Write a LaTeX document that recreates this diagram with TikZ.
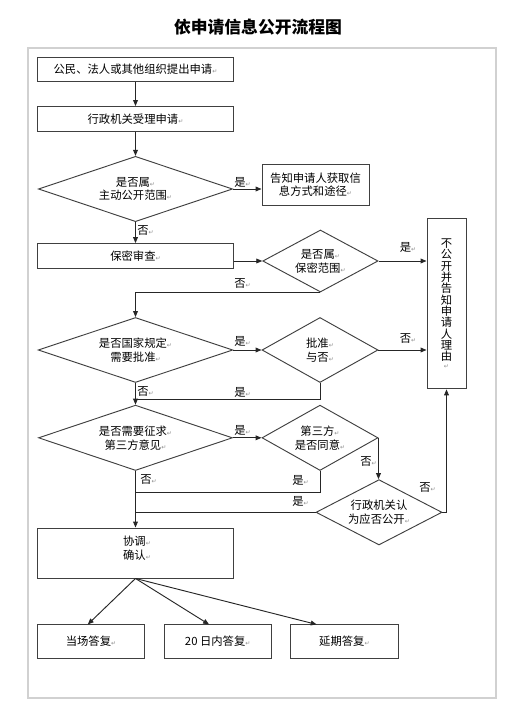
\documentclass[tikz,border=0pt]{standalone}
\usepackage{fontspec}
\setmainfont{Noto Sans CJK SC}
\newfontfamily\dejavu{DejaVu Sans}
\usetikzlibrary{arrows.meta,shapes.geometric,calc}
\newcommand{\rt}{{\dejavu\fontsize{4.5}{5}\selectfont\color{black!45}↵}}
\begin{document}
\begin{tikzpicture}[x=0.75pt,y=-0.75pt,
  txt/.style={font=\fontsize{8.5}{10.4}\selectfont},
  box/.style={draw=black!75, line width=0.7pt, rectangle, inner sep=0pt, align=center, txt},
  dia/.style={draw=black!75, line width=0.7pt, diamond, inner sep=0pt, align=center, txt},
  arr/.style={draw=black!85, line width=0.7pt, -{Triangle[length=4.5pt,width=3.6pt]}},
  ln/.style={draw=black!85, line width=0.7pt},
  lbl/.style={txt, inner sep=0pt, anchor=west}]
\useasboundingbox (0,0) rectangle (531,725);
\fill[white] (0,0) rectangle (531,725);
\draw[black!18, line width=1.8pt] (28,48) rectangle (496,698);
\node[font=\fontsize{12.6}{14}\selectfont\bfseries] (title) at (258,27) {依申请信息公开流程图};

\node[box, minimum width=147pt, minimum height=18.5pt] (b1) at (135.5,69.4) {公民、法人或其他组织提出申请\rt};
\node[box, minimum width=147pt, minimum height=18.5pt] (b2) at (135.5,118.8) {行政机关受理申请\rt};
\node[dia, shape aspect=3, minimum width=145.5pt, minimum height=49pt] (d1) at (135.5,189) {是否属\rt\\主动公开范围\rt};
\node[box, minimum width=80.25pt, minimum height=30.5pt] (b3) at (315.5,184.7) {告知申请人获取信\\息方式和途径\rt};
\node[box, minimum width=147pt, minimum height=18.3pt] (b4) at (135.5,255.8) {保密审查\rt};
\node[dia, shape aspect=1.86, minimum width=86.5pt, minimum height=46.5pt] (d2) at (320.4,261) {是否属\rt\\保密范围\rt};
\node[box, minimum width=29.25pt, minimum height=128pt, font=\fontsize{8.5}{8.5}\selectfont] (tall) at (446.5,303.6) {不\\公\\开\\并\\告\\知\\申\\请\\人\\理\\由\\[-3pt]\rt};
\node[dia, shape aspect=3, minimum width=146pt, minimum height=48.75pt] (d3) at (135.5,350) {是否国家规定\rt\\需要批准\rt};
\node[dia, shape aspect=1.8, minimum width=87pt, minimum height=48.75pt] (d4) at (320,350) {批准\rt\\与否\rt};
\node[dia, shape aspect=3, minimum width=145.5pt, minimum height=49pt] (d5) at (135.5,437.8) {是否需要征求\rt\\第三方意见\rt};
\node[dia, shape aspect=1.8, minimum width=87pt, minimum height=49pt] (d6) at (320,437.8) {第三方\rt\\是否同意\rt};
\node[dia, shape aspect=1.93, minimum width=94.5pt, minimum height=49pt] (d7) at (379,512.3) {行政机关认\\为应否公开\rt};
\node[box, minimum width=147pt, minimum height=37.5pt] (b5) at (135.5,553) {};
\node[txt, align=center, inner sep=0pt] (b5t) at (137,548) {协调\rt\\确认\rt};
\node[box, minimum width=80.6pt, minimum height=25pt] (bA) at (91,641.6) {当场答复\rt};
\node[box, minimum width=80pt, minimum height=25pt] (bB) at (217.7,641.6) {20 日内答复\rt};
\node[box, minimum width=80.8pt, minimum height=25pt] (bC) at (344.4,641.6) {延期答复\rt};

% connectors
\draw[arr] (b1.south) -- (b2.north);
\draw[arr] (b2.south) -- (d1.north);
\draw[arr] (d1.east) -- (d1.east -| b3.west);
\draw[arr] (d1.south) -- (b4.north);
\draw[arr] (d2.west -| b4.east) -- (d2.west);
\draw[arr] (d2.east) -- (d2.east -| tall.west);
\draw[arr] (d2.south) -| (d3.north);
\draw[arr] (d3.east) -- (d4.west);
\draw[arr] (d4.east) -- (d4.east -| tall.west);
\coordinate (j1) at (135.5,399.5);
\draw[ln] (d4.south) |- (j1);
\draw[arr] (d3.south) -- (d5.north);
\draw[arr] (d5.east) -- (d6.west);
\draw[arr] (d6.east) -- (d6.east |- d7.north);
\coordinate (j2) at (135.5,492);
\draw[ln] (d6.south) |- (j2);
\draw[arr] (d5.south) -- (b5.north);
\draw[ln] (d7.west) -- (d7.west -| b5.north);
\draw[arr] (d7.east) -| (tall.south);
\draw[arr] (b5.south) -- ($(bA.north west)!0.47!(bA.north east)$);
\draw[arr] (b5.south) -- ($(bB.north west)!0.42!(bB.north east)$);
\draw[arr] (b5.south) -- ($(bC.north west)!0.245!(bC.north east)$);

% labels
\node[lbl] (l1) at (234,182) {是\rt};
\node[lbl] (l2) at (137,230.5) {否\rt};
\node[lbl] (l3) at (399.5,247) {是\rt};
\node[lbl] (l4) at (234,284) {否\rt};
\node[lbl] (l5) at (234,341) {是\rt};
\node[lbl] (l6) at (399.5,339) {否\rt};
\node[lbl] (l7) at (137,392) {否\rt};
\node[lbl] (l8) at (234,392) {是\rt};
\node[lbl] (l9) at (234,430) {是\rt};
\node[lbl] (l10) at (360,462) {否\rt};
\node[lbl] (l11) at (292,480) {是\rt};
\node[lbl] (l12) at (140,480) {否\rt};
\node[lbl] (l13) at (292,501) {是\rt};
\node[lbl] (l14) at (419,487.5) {否\rt};
\end{tikzpicture}
\end{document}
